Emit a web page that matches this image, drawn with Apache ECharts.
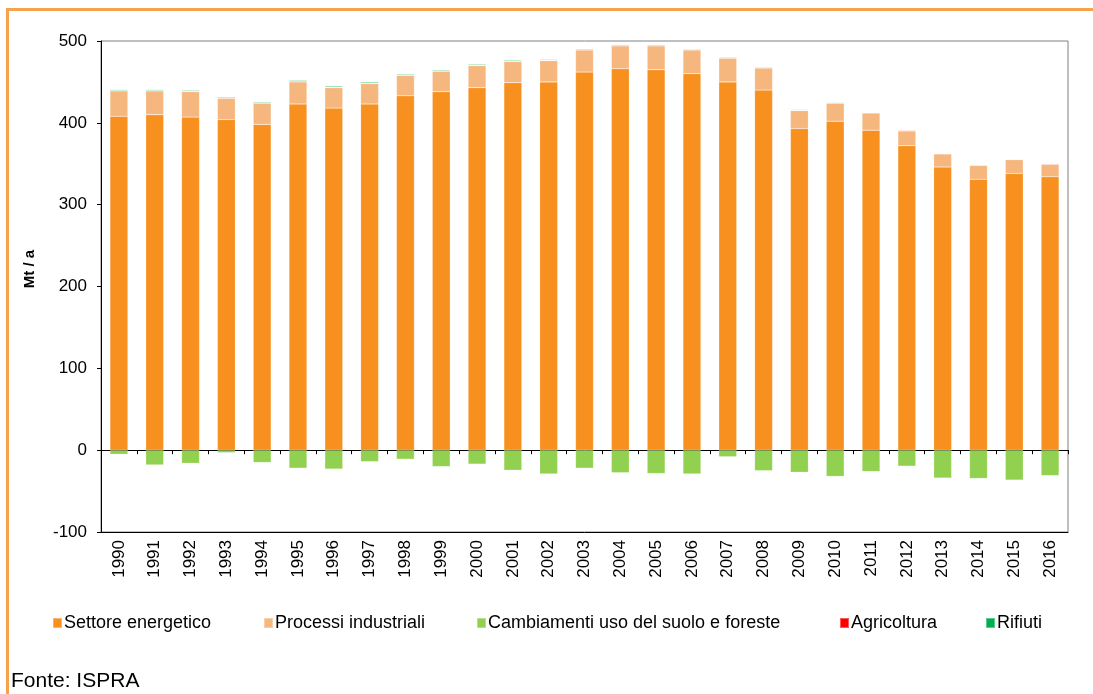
<!DOCTYPE html>
<html lang="it" style="height: 100%">
<head>
  <meta charset="utf-8">
  <script src="https://cdn.jsdelivr.net/npm/echarts@6/dist/echarts.min.js"></script>
  <style>
    body { height: 100%; margin: 0; background: #fff; }
    #chart { width: 1093px; height: 694px; }
  </style>
</head>
<body>
  <div id="chart"></div>
  <script>
    var years = ['1990','1991','1992','1993','1994','1995','1996','1997','1998','1999','2000','2001','2002','2003',
                 '2004','2005','2006','2007','2008','2009','2010','2011','2012','2013','2014','2015','2016'];
    var energetico = [408,410,407,404,398,423,418,423,433,438,443,449,450,462,466,465,460,450,440,393,402,391,372,346,331,338,334];
    var industriali = [31,29,31,26,26,27,25,25,25,25,27,26,26,27,28,29,29,29,27,22,22,21,18,16,17,17,15];
    var suolo = [-5,-18,-16,-3,-15,-22,-23,-14,-11,-20,-17,-24.5,-29,-22,-27.5,-28.5,-29,-8,-25,-27,-32,-26,-19.5,-34,-34.5,-36.5,-31];
    var agricoltura = [0.5,0.5,0.5,0.5,0.5,0.5,0.5,0.5,0.5,0.5,0.5,0.5,0.5,0.5,0.5,0.5,0.5,0.5,0.5,0.5,0.6,0.6,0.8,0.5,0.5,0.5,0.8];
    var rifiuti = [1.0,1.0,1.0,1.0,1.0,1.2,1.2,1.2,1.0,1.0,1.0,1.0,0.8,0.9,0.9,0.9,0.8,0.8,0.8,0.7,0.7,0.6,0.6,0.6,0.5,0.5,0.5];
    var yTicks = [-100, 0, 100, 200, 300, 400, 500];

    var font = 'Arial, "Liberation Sans", sans-serif';
    var names = ['Settore energetico', 'Processi industriali', 'Cambiamenti uso del suolo e foreste', 'Agricoltura', 'Rifiuti'];
    var colors = ['#f7901e', '#f6b77f', '#92d050', '#ff0000', '#00b050'];
    var legendLeft = [47, 258, 471, 834, 980];

    var chart = echarts.init(document.getElementById('chart'));

    function bar(i, data) {
      return {
        name: names[i], type: 'bar', stack: 'tot', data: data,
        xAxisIndex: 0, barWidth: '50%',
        itemStyle: { color: colors[i], borderColor: 'rgba(255,255,255,0.35)', borderWidth: 0.5 }
      };
    }

    var option = {
      animation: false,
      backgroundColor: '#fff',
      textStyle: { fontFamily: font },
      grid: { left: 101, top: 41, right: 25, bottom: 162, show: true, borderColor: '#808080', borderWidth: 1 },
      legend: names.map(function (n, i) {
        return {
          data: [n], left: legendLeft[i], top: 609, icon: 'rect', itemWidth: 9, itemHeight: 10, itemGap: 0,
          textStyle: { fontSize: 18, color: '#000', fontFamily: font, padding: [0, 0, 0, -3] },
          selectedMode: false
        };
      }),
      xAxis: [
        {
          type: 'category', data: years, boundaryGap: true,
          axisLine: { onZero: true, lineStyle: { color: '#000', width: 1 } },
          axisTick: { show: true, length: 4, inside: false, lineStyle: { color: '#000' } },
          axisLabel: { show: false }
        },
        {
          type: 'category', data: years, position: 'bottom',
          axisLine: { onZero: false, lineStyle: { color: '#000', width: 1 } },
          axisTick: { show: false },
          axisLabel: { rotate: 90, margin: 8, fontSize: 17, color: '#000', fontFamily: font, interval: 0 }
        }
      ],
      yAxis: {
        type: 'value', min: yTicks[0], max: yTicks[yTicks.length - 1], interval: 100,
        axisLine: { show: true, lineStyle: { color: '#000' } },
        axisTick: { show: true, length: 4, lineStyle: { color: '#000' } },
        splitLine: { show: false },
        axisLabel: { fontSize: 17, color: '#000', margin: 14, fontFamily: font }
      },
      series: [
        bar(0, energetico),
        bar(1, industriali),
        bar(2, suolo),
        bar(3, agricoltura),
        bar(4, rifiuti)
      ],
      graphic: [
        { type: 'rect', shape: { x: 7.5, y: 9.5, width: 1200, height: 800 },
          style: { fill: 'none', stroke: '#f7a34d', lineWidth: 3 }, silent: true },
        { type: 'text', x: 30, y: 269, rotation: Math.PI / 2,
          style: { text: 'Mt / a', font: 'bold 15px ' + font, fill: '#000', align: 'center', verticalAlign: 'middle' } },
        { type: 'text', x: 11, y: 681,
          style: { text: 'Fonte: ISPRA', font: '21px ' + font, fill: '#000', align: 'left', verticalAlign: 'middle' } }
      ]
    };
    chart.setOption(option);
    window.addEventListener('resize', chart.resize);
  </script>
</body>
</html>
